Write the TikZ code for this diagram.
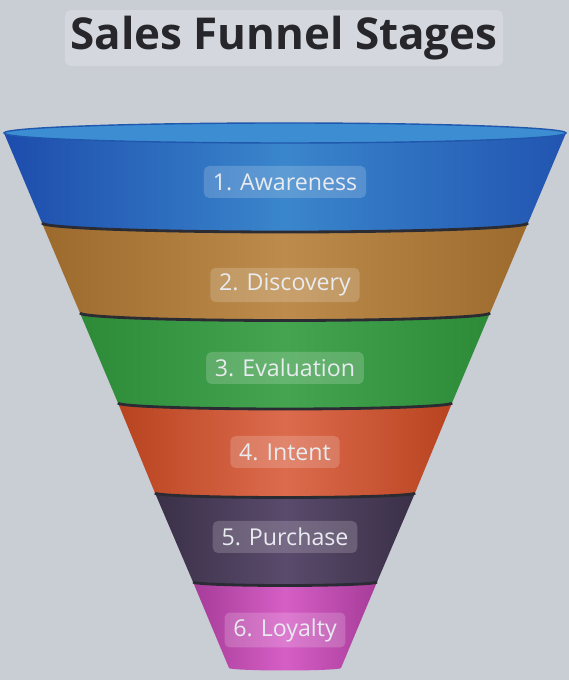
\documentclass[tikz,border=0pt]{standalone}
\usepackage{fontspec}
\setmainfont{Open Sans}
\definecolor{bgcol}{HTML}{C9CDD4}
\definecolor{titlefill}{HTML}{D4D7DD}
\definecolor{titletext}{HTML}{27272B}
\definecolor{labeltext}{HTML}{E8EBEF}
\definecolor{sepcol}{HTML}{2B2B33}
\definecolor{rimblue}{HTML}{3D8DD3}
\definecolor{rimedge}{HTML}{1F58AC}
\definecolor{blueedge}{HTML}{1D4CAC}
\definecolor{bluemid}{HTML}{3A86CC}
\definecolor{brownedge}{HTML}{9C6A2C}
\definecolor{brownmid}{HTML}{BD8C4C}
\definecolor{greenedge}{HTML}{2D8B38}
\definecolor{greenmid}{HTML}{44A450}
\definecolor{orangeedge}{HTML}{B8431F}
\definecolor{orangemid}{HTML}{DC6B4D}
\definecolor{purpleedge}{HTML}{3A3047}
\definecolor{purplemid}{HTML}{5A4A6C}
\definecolor{magentaedge}{HTML}{A63C98}
\definecolor{magentamid}{HTML}{D65EC6}
\tikzset{
  titlebox/.style={fill=titlefill, text=titletext, rounded corners=3pt,
    font=\fontsize{25}{30}\selectfont\bfseries, minimum height=1.08cm, inner xsep=3pt},
  stagelabel/.style={fill=white, fill opacity=0.18, text opacity=1, text=labeltext,
    rounded corners=3pt, font=\fontsize{13.2}{15}\selectfont, inner xsep=5pt,
    minimum height=0.64cm},
  sepline/.style={draw=sepcol, line width=1.6pt}
}
\begin{document}
\begin{tikzpicture}
% Funnel centre line
\def\cx{5.7}

% Background and page size
\fill[bgcol] (0,0) rectangle (11.38,13.6);
\useasboundingbox (0,0) rectangle (11.38,13.6);

% Title
\node[titlebox] (title) at (5.68,12.84) {Sales Funnel Stages};

% Funnel segments, top to bottom
\shade[left color=blueedge, right color=blueedge!85!bluemid, middle color=bluemid] (\cx-5.62,10.94) arc[start angle=180, end angle=360, x radius=5.62cm, y radius=0.2cm] -- (\cx+4.86,9.14) arc[start angle=0, end angle=-180, x radius=4.86cm, y radius=0.18cm] -- cycle;
\shade[left color=brownedge, right color=brownedge, middle color=brownmid] (\cx-4.86,9.14) arc[start angle=180, end angle=360, x radius=4.86cm, y radius=0.18cm] -- (\cx+4.10,7.34) arc[start angle=0, end angle=-180, x radius=4.10cm, y radius=0.15cm] -- cycle;
\shade[left color=greenedge, right color=greenedge, middle color=greenmid] (\cx-4.10,7.34) arc[start angle=180, end angle=360, x radius=4.10cm, y radius=0.15cm] -- (\cx+3.34,5.54) arc[start angle=0, end angle=-180, x radius=3.34cm, y radius=0.12cm] -- cycle;
\shade[left color=orangeedge, right color=orangeedge, middle color=orangemid] (\cx-3.34,5.54) arc[start angle=180, end angle=360, x radius=3.34cm, y radius=0.12cm] -- (\cx+2.60,3.74) arc[start angle=0, end angle=-180, x radius=2.60cm, y radius=0.09cm] -- cycle;
\shade[left color=purpleedge, right color=purpleedge, middle color=purplemid] (\cx-2.60,3.74) arc[start angle=180, end angle=360, x radius=2.60cm, y radius=0.09cm] -- (\cx+1.84,1.96) arc[start angle=0, end angle=-180, x radius=1.84cm, y radius=0.07cm] -- cycle;
\shade[left color=magentaedge, right color=magentaedge, middle color=magentamid] (\cx-1.84,1.96) arc[start angle=180, end angle=360, x radius=1.84cm, y radius=0.07cm] -- (\cx+1.12,0.24) arc[start angle=0, end angle=-180, x radius=1.12cm, y radius=0.05cm] -- cycle;

% Top rim of the funnel
\filldraw[fill=rimblue, draw=rimedge, line width=0.8pt] (\cx,10.94) ellipse[x radius=5.62cm, y radius=0.2cm];

% Dark seams between the segments
\draw[sepline] (\cx-4.86,9.14) arc[start angle=180, end angle=360, x radius=4.86cm, y radius=0.18cm];
\draw[sepline] (\cx-4.10,7.34) arc[start angle=180, end angle=360, x radius=4.10cm, y radius=0.15cm];
\draw[sepline] (\cx-3.34,5.54) arc[start angle=180, end angle=360, x radius=3.34cm, y radius=0.12cm];
\draw[sepline] (\cx-2.60,3.74) arc[start angle=180, end angle=360, x radius=2.60cm, y radius=0.09cm];
\draw[sepline] (\cx-1.84,1.96) arc[start angle=180, end angle=360, x radius=1.84cm, y radius=0.07cm];

% Stage labels
\node[stagelabel] (awareness) at (\cx,9.96) {1. Awareness};
\node[stagelabel] (discovery) at (\cx,7.9) {2. Discovery};
\node[stagelabel] (evaluation) at (\cx,6.24) {3. Evaluation};
\node[stagelabel] (intent) at (\cx,4.56) {4. Intent};
\node[stagelabel] (purchase) at (\cx,2.86) {5. Purchase};
\node[stagelabel] (loyalty) at (\cx,1.0) {6. Loyalty};
\end{tikzpicture}
\end{document}
